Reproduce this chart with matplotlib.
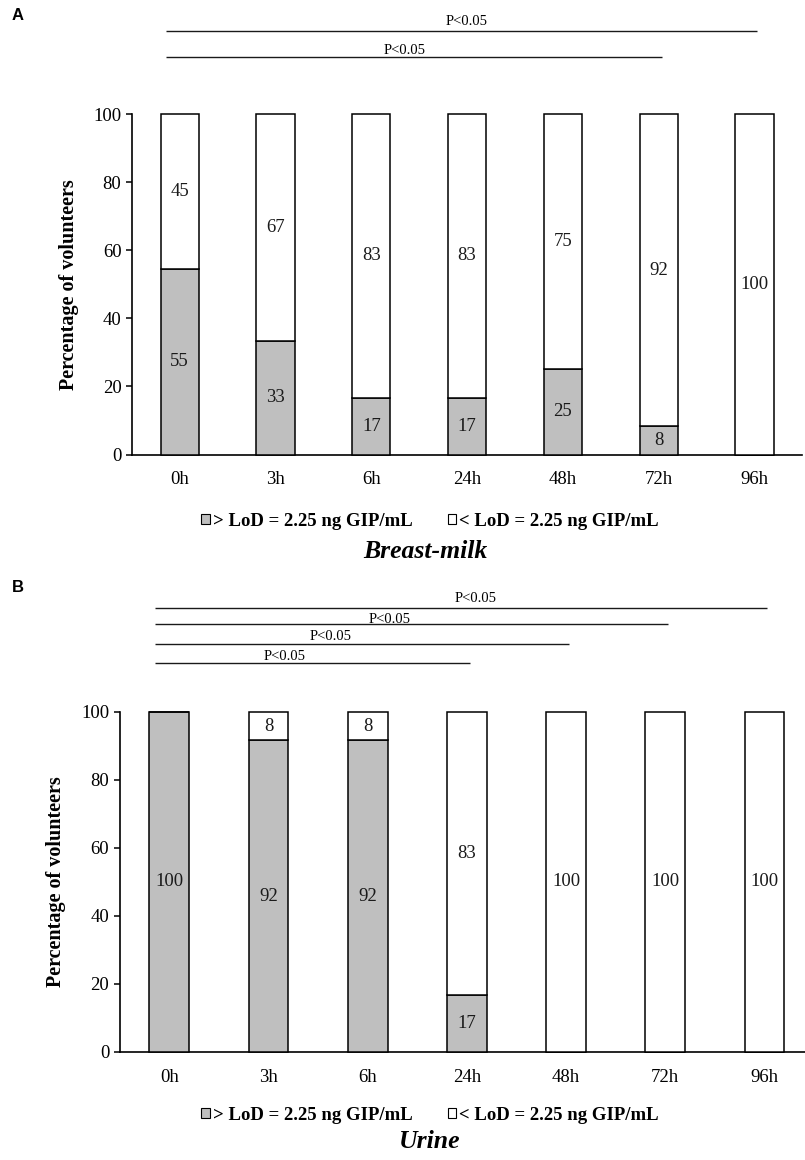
import matplotlib
matplotlib.use('Agg')
import matplotlib.pyplot as plt
from matplotlib.patches import Patch

# ---------------- data ----------------
categories = ['0h', '3h', '6h', '24h', '48h', '72h', '96h']
yticks = [0, 20, 40, 60, 80, 100]

milk_above = [54.5, 33.3, 16.7, 16.7, 25.0, 8.3, 0.0]
milk_below = [45.5, 66.7, 83.3, 83.3, 75.0, 91.7, 100.0]
milk_above_labels = ['55', '33', '17', '17', '25', '8', '']
milk_below_labels = ['45', '67', '83', '83', '75', '92', '100']

urine_above = [100.0, 91.7, 91.7, 16.7, 0.0, 0.0, 0.0]
urine_below = [0.0, 8.3, 8.3, 83.3, 100.0, 100.0, 100.0]
urine_above_labels = ['100', '92', '92', '17', '', '', '']
urine_below_labels = ['', '8', '8', '83', '100', '100', '100']

legend_labels = ['> LoD = 2.25 ng GIP/mL', '< LoD = 2.25 ng GIP/mL']
panel_titles = ['Breast-milk', 'Urine']
panel_letters = ['A', 'B']

# significance comparisons: (from category index, to category index, text)
milk_sig = [(0, 6, 'P<0.05'), (0, 5, 'P<0.05')]
urine_sig = [(0, 6, 'P<0.05'), (0, 5, 'P<0.05'), (0, 4, 'P<0.05'), (0, 3, 'P<0.05')]

# ---------------- style ----------------
plt.rcParams['font.family'] = ['Liberation Serif', 'DejaVu Serif']
GRAY = '#BFBFBF'
W, H = 805, 1160
fig = plt.figure(figsize=(W / 100, H / 100), dpi=100)


def px_rect(left, right, top, bottom):
    return [left / W, 1 - bottom / H, (right - left) / W, (bottom - top) / H]


def panel(rect, above, below, above_lbl, below_lbl, sig, sig_y, sig_text_xy,
          ylabel_off, legend_y, title, title_x, title_y, letter, letter_y):
    ax = fig.add_axes(rect)
    x = list(range(len(categories)))
    ax.bar(x, above, width=0.4, color=GRAY, edgecolor='black', linewidth=1.1,
           clip_on=False, zorder=3)
    ax.bar(x, below, width=0.4, bottom=above, color='white', edgecolor='black',
           linewidth=1.1, clip_on=False, zorder=3)
    for i in x:
        if above_lbl[i]:
            ax.text(i, above[i] / 2, above_lbl[i], ha='center', va='center',
                    fontsize=13.5, color='#1a1a1a', zorder=4)
        if below_lbl[i]:
            ax.text(i, above[i] + below[i] / 2, below_lbl[i], ha='center',
                    va='center', fontsize=13.5, color='#1a1a1a', zorder=4)
    ax.set_xlim(-0.5, len(categories) - 0.5)
    ax.set_ylim(0, 100)
    ax.set_xticks(x)
    ax.set_xticklabels(categories, fontsize=13.5)
    ax.set_yticks(yticks)
    ax.set_yticklabels([str(t) for t in yticks], fontsize=13.5)
    ax.tick_params(axis='x', length=0, pad=12)
    ax.tick_params(axis='y', length=4.5, width=1.1, direction='out', pad=3)
    for s in ['top', 'right']:
        ax.spines[s].set_visible(False)
    for s in ['left', 'bottom']:
        ax.spines[s].set_linewidth(1.2)
    ax_w_px = rect[2] * W
    ax.text(-ylabel_off / ax_w_px, 0.5, 'Percentage of volunteers', rotation=90,
            ha='center', va='center', fontsize=14.5, fontweight='bold',
            transform=ax.transAxes)
    # significance lines
    for (a, b, txt), ly, (tx, ty) in zip(sig, sig_y, sig_text_xy):
        ax.plot([a - 0.14, b + 0.03], [ly, ly], color='#1a1a1a', lw=1.0,
                clip_on=False, solid_capstyle='butt')
        ax.text(tx, ty, txt, ha='center', va='center', fontsize=10.5,
                clip_on=False)
    # legend
    handles = [Patch(facecolor=GRAY, edgecolor='black', linewidth=0.8),
               Patch(facecolor='white', edgecolor='black', linewidth=0.8)]
    fig.legend(handles, legend_labels, loc='center', ncol=2,
               bbox_to_anchor=(430 / W, 1 - legend_y / H), frameon=False,
               prop={'weight': 'bold', 'size': 13.5}, handlelength=0.45,
               handleheight=0.45, handletextpad=0.15, columnspacing=1.9,
               borderaxespad=0, borderpad=0)
    fig.text(title_x / W, 1 - title_y / H, title, ha='center', va='center',
             fontsize=18.5, fontweight='bold', fontstyle='italic')
    fig.text(12 / W, 1 - letter_y / H, letter,
             ha='left', va='center', fontsize=12, fontweight='bold',
             family=['Liberation Sans', 'DejaVu Sans'])
    return ax


panel(px_rect(131.8, 802.4, 114.3, 454.5), milk_above, milk_below,
      milk_above_labels, milk_below_labels, milk_sig,
      [124.5, 116.8], [(2.99, 127.4), (2.35, 118.9)],
      63, 521, panel_titles[0], 425, 551, panel_letters[0], 15)

panel(px_rect(119.7, 814.0, 712.0, 1052.0), urine_above, urine_below,
      urine_above_labels, urine_below_labels, urine_sig,
      [130.7, 125.8, 119.9, 114.5],
      [(3.09, 133.5), (2.22, 127.3), (1.63, 122.2), (1.16, 116.4)],
      64, 1115, panel_titles[1], 430, 1142, panel_letters[1], 588)

fig.savefig('out.png', dpi=100)
